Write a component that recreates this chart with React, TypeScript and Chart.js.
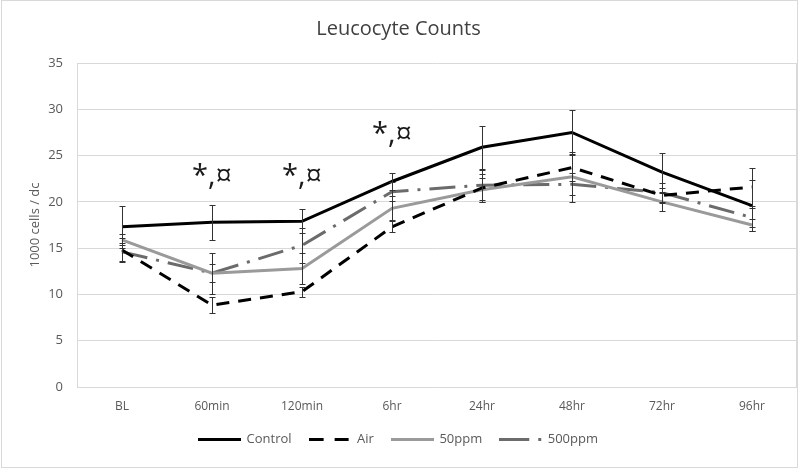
import React, { useEffect, useRef } from "react";
import { Chart, registerables } from "chart.js";

Chart.register(...registerables);

const categories = ["BL", "60min", "120min", "6hr", "24hr", "48hr", "72hr", "96hr"];
const seriesNames = ["Control", "Air", "50ppm", "500ppm"];

const controlValues = [17.3, 17.8, 17.9, 22.2, 25.9, 27.5, 23.2, 19.6];
const controlErrors = [2.3, 1.9, 1.3, 0.9, 2.3, 2.4, 2.1, 2.8];
const airValues = [14.8, 8.85, 10.3, 17.3, 21.5, 23.7, 20.7, 21.6];
const airErrors = [1.3, 0.9, 0.55, 0.6, 1.5, 1.5, 0.8, 2.1];
const ppm50Values = [15.9, 12.3, 12.8, 19.3, 21.3, 22.7, 20.0, 17.5];
const ppm50Errors = [0.6, 2.2, 1.7, 1.3, 1.3, 2.7, 1.0, 0.7];
const ppm500Values = [14.6, 12.3, 15.3, 21.1, 21.8, 21.9, 21.0, 18.3];
const ppm500Errors = [1.0, 1.0, 1.9, 1.0, 1.6, 1.2, 1.0, 1.0];

const annotationCategories = ["60min", "120min", "6hr"];
const annotationValues = [22.7, 22.7, 27.2];
const annotationTexts = ["*,¤", "*,¤", "*,¤"];

const yTicks = [0, 5, 10, 15, 20, 25, 30, 35];

const FONT = "'Open Sans', 'DejaVu Sans', sans-serif";

const errorBarsPlugin = {
  id: "errorBars",
  afterDatasetsDraw(chart: any) {
    const ctx = chart.ctx;
    const yScale = chart.scales.y;
    ctx.save();
    ctx.strokeStyle = "#333333";
    ctx.lineWidth = 1;
    ctx.setLineDash([]);
    chart.data.datasets.forEach((ds: any, i: number) => {
      const meta = chart.getDatasetMeta(i);
      meta.data.forEach((pt: any, j: number) => {
        const v = ds.data[j];
        const e = ds.errors[j];
        const top = Math.round(yScale.getPixelForValue(v + e)) + 0.5;
        const bot = Math.round(yScale.getPixelForValue(v - e)) + 0.5;
        const x = Math.round(pt.x) + 0.5;
        ctx.beginPath();
        ctx.moveTo(x, top);
        ctx.lineTo(x, bot);
        ctx.moveTo(x - 3, top);
        ctx.lineTo(x + 3, top);
        ctx.moveTo(x - 3, bot);
        ctx.lineTo(x + 3, bot);
        ctx.stroke();
      });
    });
    ctx.restore();
  },
};

const annotationPlugin = {
  id: "significance",
  afterDatasetsDraw(chart: any) {
    const ctx = chart.ctx;
    const xs = chart.scales.x;
    const ys = chart.scales.y;
    ctx.save();
    ctx.fillStyle = "#1a1a1a";
    ctx.font = `29px ${FONT}`;
    ctx.textAlign = "center";
    ctx.textBaseline = "middle";
    annotationCategories.forEach((c, i) => {
      const x = xs.getPixelForValue(categories.indexOf(c));
      const y = ys.getPixelForValue(annotationValues[i]);
      ctx.fillText(annotationTexts[i], x, y);
    });
    ctx.restore();
  },
};

const framePlugin = {
  id: "frame",
  beforeDraw(chart: any) {
    const ctx = chart.ctx;
    ctx.save();
    ctx.fillStyle = "#ffffff";
    ctx.fillRect(0, 0, chart.width, chart.height);
    ctx.restore();
  },
  afterDraw(chart: any) {
    const ctx = chart.ctx;
    const a = chart.chartArea;
    ctx.save();
    ctx.strokeStyle = "#d9d9d9";
    ctx.lineWidth = 1;
    ctx.strokeRect(1.5, 0.5, chart.width - 4, chart.height - 1);
    ctx.beginPath();
    ctx.moveTo(Math.round(a.right) - 0.5, a.top);
    ctx.lineTo(Math.round(a.right) - 0.5, a.bottom);
    ctx.stroke();
    ctx.restore();
  },
};

function makeLegendSymbol(color: string, dash: number[]) {
  const c = document.createElement("canvas");
  c.width = 43;
  c.height = 3;
  const g = c.getContext("2d");
  if (g) {
    g.strokeStyle = color;
    g.lineWidth = 3;
    g.lineCap = "butt";
    g.setLineDash(dash);
    g.beginPath();
    g.moveTo(0, 1.5);
    g.lineTo(43, 1.5);
    g.stroke();
  }
  return c;
}

export default function App() {
  const ref = useRef<HTMLCanvasElement | null>(null);

  useEffect(() => {
    document.body.style.margin = "0";
    const canvas = ref.current;
    if (!canvas) return;
    const datasets: any[] = [
      {
        label: seriesNames[0],
        data: controlValues,
        errors: controlErrors,
        borderColor: "#000000",
        borderWidth: 3,
        borderDash: [],
        legendDash: [],
      },
      {
        label: seriesNames[1],
        data: airValues,
        errors: airErrors,
        borderColor: "#000000",
        borderWidth: 3,
        borderDash: [13, 9],
        legendDash: [15, 11, 14, 10],
      },
      {
        label: seriesNames[2],
        data: ppm50Values,
        errors: ppm50Errors,
        borderColor: "#9a9a9a",
        borderWidth: 3,
        borderDash: [],
        legendDash: [],
      },
      {
        label: seriesNames[3],
        data: ppm500Values,
        errors: ppm500Errors,
        borderColor: "#6b6b6b",
        borderWidth: 3,
        borderDash: [26, 9, 3, 9],
        legendDash: [30, 9, 3, 10],
      },
    ].map((d) => ({
      ...d,
      backgroundColor: d.borderColor,
      pointRadius: 0,
      pointHoverRadius: 0,
      tension: 0,
      fill: false,
      borderCapStyle: "butt",
    }));

    const symbols = datasets.map((d) => makeLegendSymbol(d.borderColor, d.legendDash));

    const chart = new Chart(canvas, {
      type: "line",
      data: { labels: categories, datasets },
      plugins: [framePlugin, errorBarsPlugin, annotationPlugin],
      options: {
        responsive: false,
        animation: false,
        devicePixelRatio: 1,
        layout: { padding: { left: 0, right: 3, top: 0, bottom: 12 } },
        plugins: {
          tooltip: { enabled: false },
          title: {
            display: true,
            text: "Leucocyte Counts",
            color: "#404040",
            font: { family: FONT, size: 20, weight: "normal" },
            padding: { top: 17, bottom: 22 },
          },
          legend: {
            display: true,
            position: "bottom",
            labels: {
              color: "#595959",
              font: { family: FONT, size: 13 },
              usePointStyle: true,
              pointStyleWidth: 41,
              boxHeight: 13,
              padding: 18,
              generateLabels(chart: any) {
                return chart.data.datasets.map((ds: any, i: number) => ({
                  text: ds.label,
                  datasetIndex: i,
                  fillStyle: ds.borderColor,
                  strokeStyle: ds.borderColor,
                  lineWidth: 0,
                  pointStyle: symbols[i],
                  hidden: false,
                  fontColor: "#595959",
                }));
              },
            },
          },
        },
        scales: {
          x: {
            offset: true,
            grid: { display: false, drawTicks: false },
            border: { display: true, color: "#d9d9d9" },
            ticks: {
              color: "#595959",
              font: { family: FONT, size: 12 },
              padding: 12,
              maxRotation: 0,
            },
            afterFit(s: any) {
              s.height = 28;
            },
          },
          y: {
            min: 0,
            max: 35,
            afterBuildTicks(s: any) {
              s.ticks = yTicks.map((v) => ({ value: v }));
            },
            grid: { color: "#d9d9d9", drawTicks: false },
            border: { display: true, color: "#d9d9d9" },
            ticks: {
              color: "#595959",
              font: { family: FONT, size: 13 },
              padding: 14,
            },
            title: {
              display: true,
              text: "1000 cells / dc",
              color: "#595959",
              font: { family: FONT, size: 13 },
              padding: { top: 27, bottom: 0 },
            },
            afterFit(s: any) {
              s.width = 77;
            },
          },
        },
      },
    } as any);
    return () => chart.destroy();
  }, []);

  return (
    <div style={{ width: 800, height: 468 }}>
      <canvas ref={ref} width={800} height={468} style={{ display: "block" }} />
    </div>
  );
}
